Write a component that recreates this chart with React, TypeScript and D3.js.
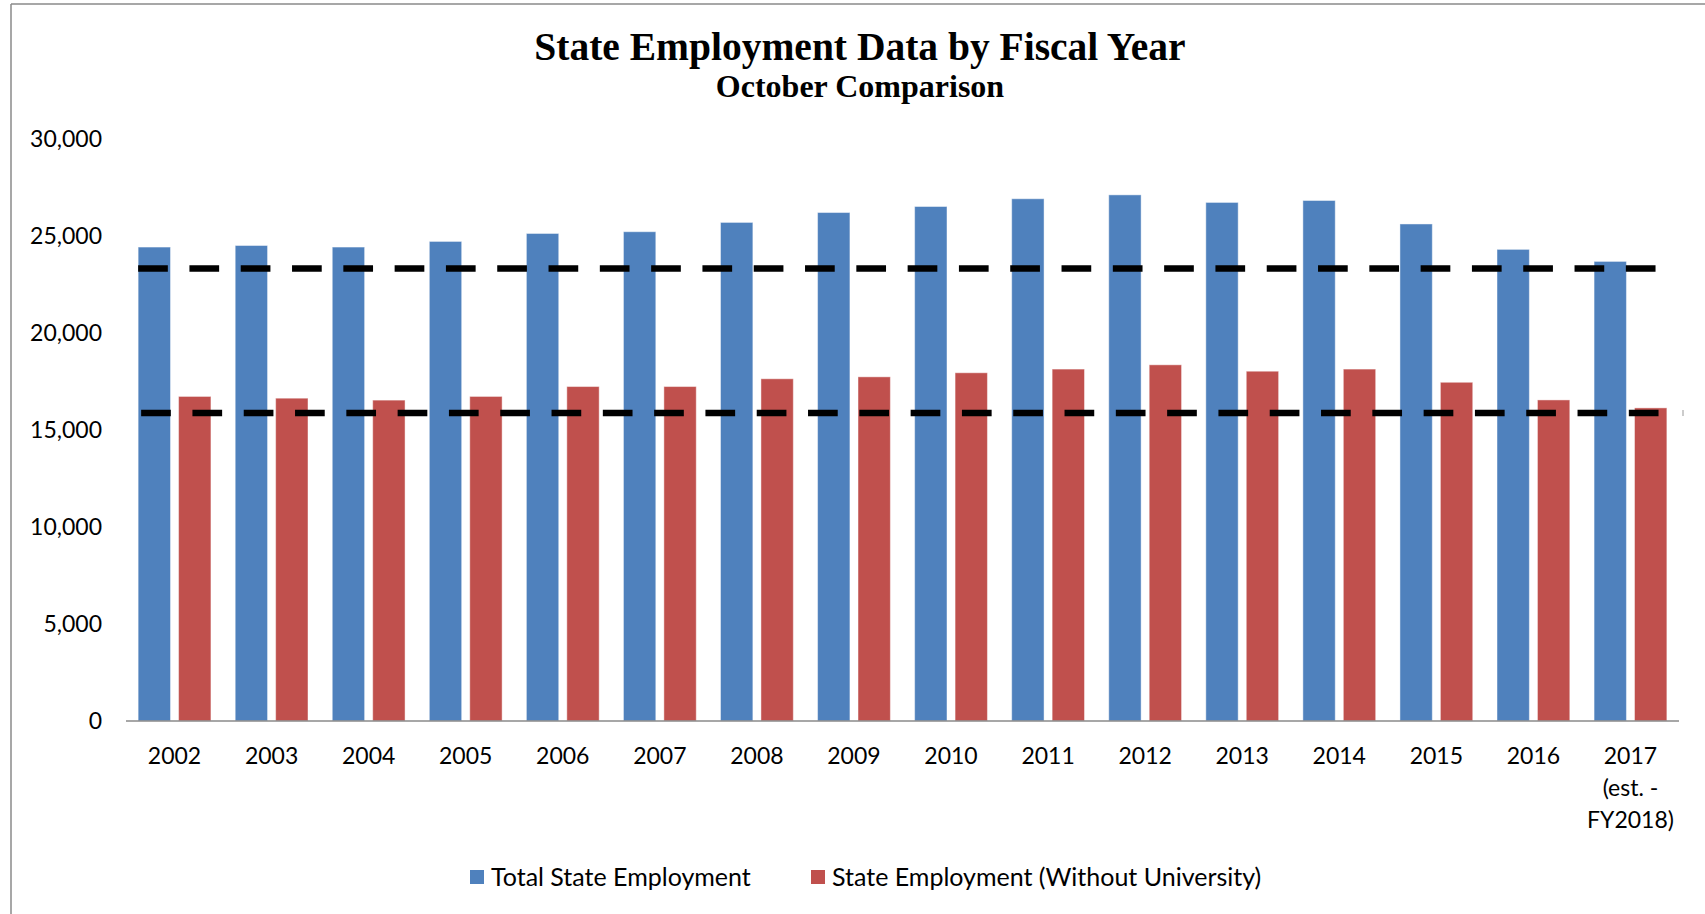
import React from 'react';
import * as d3 from 'd3';

const years = ['2002','2003','2004','2005','2006','2007','2008','2009','2010','2011','2012','2013','2014','2015','2016','2017'];
const yearLabels: string[][] = [['2002'],['2003'],['2004'],['2005'],['2006'],['2007'],['2008'],['2009'],['2010'],['2011'],['2012'],['2013'],['2014'],['2015'],['2016'],['2017','(est. -','FY2018)']];
const totalEmployment = [24430, 24510, 24430, 24720, 25130, 25220, 25700, 26210, 26520, 26920, 27120, 26730, 26830, 25620, 24310, 23690];
const withoutUniversity = [16730, 16640, 16540, 16730, 17240, 17240, 17640, 17740, 17950, 18140, 18360, 18030, 18140, 17460, 16550, 16140];
const referenceLines = [23330, 15870];
const yTicks = [0, 5000, 10000, 15000, 20000, 25000, 30000];
const seriesNames = ['Total State Employment', 'State Employment (Without University)'];
const seriesColors = ['#4F81BD', '#C0504D'];

const W = 1705, H = 914;
const FONT = 'Lato, "Open Sans", sans-serif';

export default function App() {
  const x0 = d3.scaleBand<string>().domain(years).range([126, 1679]).padding(0);
  const x1 = d3.scaleBand<string>().domain(['a', 'b']).range([0, x0.bandwidth()]).paddingInner(0.2).paddingOuter(0.3);
  const y = d3.scaleLinear().domain([0, 30000]).range([721, 139]);
  const fmt = d3.format(',');
  const series = [totalEmployment, withoutUniversity];
  const keys = ['a', 'b'];

  const lineStartOffsets = [x1('a')!, x1('a')! + 3];
  const lineEndFrac = [0.7, 0.8];
  const lineEnd = (i: number) => x0(years[years.length - 1])! + x1('b')! + x1.bandwidth() * lineEndFrac[i];

  return (
    <svg width={W} height={H} style={{ position: 'absolute', left: 0, top: 0, display: 'block', background: '#fff' }}>
      <rect x={0} y={0} width={W} height={H} fill="#fff" />
      <line x1={11} y1={4} x2={W} y2={4} stroke="#8a8a8a" strokeWidth={1.5} />
      <line x1={11} y1={4} x2={11} y2={H} stroke="#8a8a8a" strokeWidth={1.5} />

      <text x={860} y={60} textAnchor="middle" fontFamily='"Liberation Serif", serif' fontWeight="bold" fontSize={39.5} fill="#000">State Employment Data by Fiscal Year</text>
      <text x={860} y={97} textAnchor="middle" fontFamily='"Liberation Serif", serif' fontWeight="bold" fontSize={32} fill="#000">October Comparison</text>

      {yTicks.map(t => (
        <text key={t} x={102} y={y(t)} dy="0.35em" textAnchor="end" fontFamily={FONT} fontSize={23} fill="#000">{fmt(t)}</text>
      ))}

      {series.map((vals, si) => (
        <g key={si}>
          {vals.map((v, i) => (
            <rect key={i} x={x0(years[i])! + x1(keys[si])!} y={y(v)} width={x1.bandwidth()} height={y(0) - y(v)}
              fill={seriesColors[si]} stroke="rgba(255,255,255,0.45)" strokeWidth={1} />
          ))}
        </g>
      ))}

      <line x1={x0.range()[0]} x2={x0.range()[1]} y1={y(0)} y2={y(0)} stroke="#8a8a8a" strokeWidth={1.5} />

      {referenceLines.map((v, i) => {
        const path = d3.line<number[]>()([[x0(years[0])! + lineStartOffsets[i], y(v)], [lineEnd(i), y(v)]]);
        return <path key={i} d={path!} stroke="#000" strokeWidth={6.5} strokeDasharray="29.7 21.6" fill="none" />;
      })}
      <line x1={x0.range()[1] + 4} x2={x0.range()[1] + 4} y1={y(referenceLines[1]) - 3} y2={y(referenceLines[1]) + 3} stroke="#bbb" strokeWidth={1.5} />

      {yearLabels.map((lines, i) => (
        <text key={i} x={x0(years[i])! + x0.bandwidth() / 2} y={756} textAnchor="middle" fontFamily={FONT} fontSize={23} fill="#000">
          {lines.map((l, j) => (
            <tspan key={j} x={x0(years[i])! + x0.bandwidth() / 2} y={756 + j * 32} dy="0.35em">{l}</tspan>
          ))}
        </text>
      ))}

      <g>
        <rect x={470} y={870} width={14} height={14} fill={seriesColors[0]} />
        <text x={491} y={877} dy="0.35em" fontFamily={FONT} fontSize={25} fill="#000">{seriesNames[0]}</text>
        <rect x={811} y={870} width={14} height={14} fill={seriesColors[1]} />
        <text x={832} y={877} dy="0.35em" fontFamily={FONT} fontSize={25} fill="#000">{seriesNames[1]}</text>
      </g>
    </svg>
  );
}
